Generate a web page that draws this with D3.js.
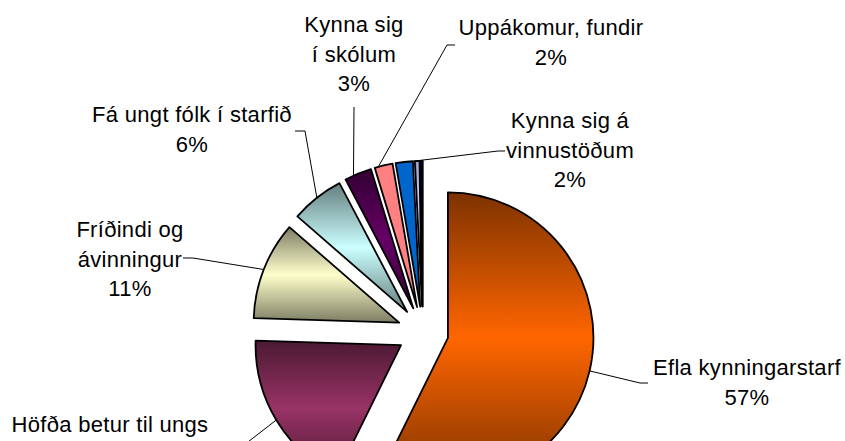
<!DOCTYPE html>
<html><head><meta charset="utf-8">
<script src="https://cdn.jsdelivr.net/npm/d3@7"></script>
<style>html,body{margin:0;padding:0;background:#fff;} svg{display:block}</style>
</head><body><svg id="chart" width="845" height="441"></svg>
<script>
// ---- data ----
const categories = ["Efla kynningarstarf","Höfða betur til ungs","Fríðindi og ávinningur","Fá ungt fólk í starfið","Kynna sig í skólum","Uppákomur, fundir","Kynna sig á vinnustöðum","",""];
const values = [57.3, 18.2, 10.9, 5.9, 3.0, 2.0, 1.9, 0.5, 0.3];
const colors = ["#ff6600","#993366","#ffffcc","#ccffff","#660066","#ff8080","#0066cc","#ccccff","#000080"];
const fillStyles = ["v","v","v","v","v","solid","solid","h","v"];
const labelLines = [["Efla kynningarstarf"],["Höfða betur til ungs"],["Fríðindi og","ávinningur"],["Fá ungt fólk í starfið"],["Kynna sig","í skólum"],["Uppákomur, fundir"],["Kynna sig á","vinnustöðum"],null,null];
const showPct = [true,false,true,true,true,true,true,false,false];

// ---- layout ----
const W = 845, H = 441;
const cx = 423, cy = 332, R = 145.5, explode = 25.6;
const labelLayout = [
  {x:747, y:375, lead:[648,383], elbow:-8, f:0.5},
  {x:110, y:432, lead:[225,452], elbow:10, f:0.5},
  {x:130, y:237, lead:[183,258], elbow:10, f:0.5},
  {x:192, y:122, lead:[295,131], elbow:10, f:0.5},
  {x:354, y:32,  lead:[354,107], elbow:0,  f:0.32},
  {x:551, y:35,  lead:[455,45],  elbow:-8, f:0.2},
  {x:570, y:128, lead:[505,151], elbow:-7, f:1.0}
];
const lineH = 29.5;

const svg = d3.select("#chart");
const defs = svg.append("defs");
const data = categories.map((c,i)=>({name:c, value:values[i], i}));
const total = d3.sum(values);
const pct = d3.format(".0%");

const pie = d3.pie().value(d=>d.value).sort(null).startAngle(0).endAngle(2*Math.PI);
const arcs = pie(data);
const arc = d3.arc().innerRadius(0).outerRadius(R);

arcs.forEach((a,i)=>{
  const st = fillStyles[i];
  if (st === "solid") return;
  const c = d3.rgb(colors[i]);
  const dark = c.darker(2).formatHex();
  const g = defs.append("linearGradient").attr("id","g"+i)
    .attr("x1",0).attr("y1",0)
    .attr("x2", st==="h"?1:0).attr("y2", st==="h"?0:1);
  g.append("stop").attr("offset",0).attr("stop-color",dark);
  g.append("stop").attr("offset",0.5).attr("stop-color",c.formatHex());
  g.append("stop").attr("offset",1).attr("stop-color",dark);
});

function apex(a){
  const m = (a.startAngle + a.endAngle)/2;
  return [cx + explode*Math.sin(m), cy - explode*Math.cos(m)];
}

const slices = svg.append("g");
arcs.forEach((a,i)=>{
  const [ax, ay] = apex(a);
  slices.append("path")
    .attr("transform",`translate(${ax},${ay})`)
    .attr("d", arc(a))
    .attr("fill", fillStyles[i]==="solid" ? colors[i] : `url(#g${i})`)
    .attr("stroke","#000").attr("stroke-width",1.8).attr("stroke-linejoin","round");
});

// leaders and labels
const lg = svg.append("g");
labelLayout.forEach((L,i)=>{
  const a = arcs[i];
  const [ax, ay] = apex(a);
  const ang = a.startAngle + L.f*(a.endAngle - a.startAngle);
  const px = ax + R*Math.sin(ang), py = ay - R*Math.cos(ang);
  const pts = [L.lead, [L.lead[0]+L.elbow, L.lead[1]], [px, py]];
  lg.append("path").attr("d", d3.line()(pts))
    .attr("fill","none").attr("stroke","#000").attr("stroke-width",1);
  const lines = showPct[i] ? labelLines[i].concat([pct(values[i]/total)]) : labelLines[i];
  const t = lg.append("text")
    .attr("font-family","'Liberation Sans', Arial, sans-serif")
    .attr("font-size",22).attr("letter-spacing","0.3px")
    .attr("text-anchor","middle").attr("fill","#000");
  lines.forEach((s,k)=>{
    t.append("tspan").attr("x",L.x).attr("y",L.y + k*lineH).text(s);
  });
});
</script>
</body></html>
